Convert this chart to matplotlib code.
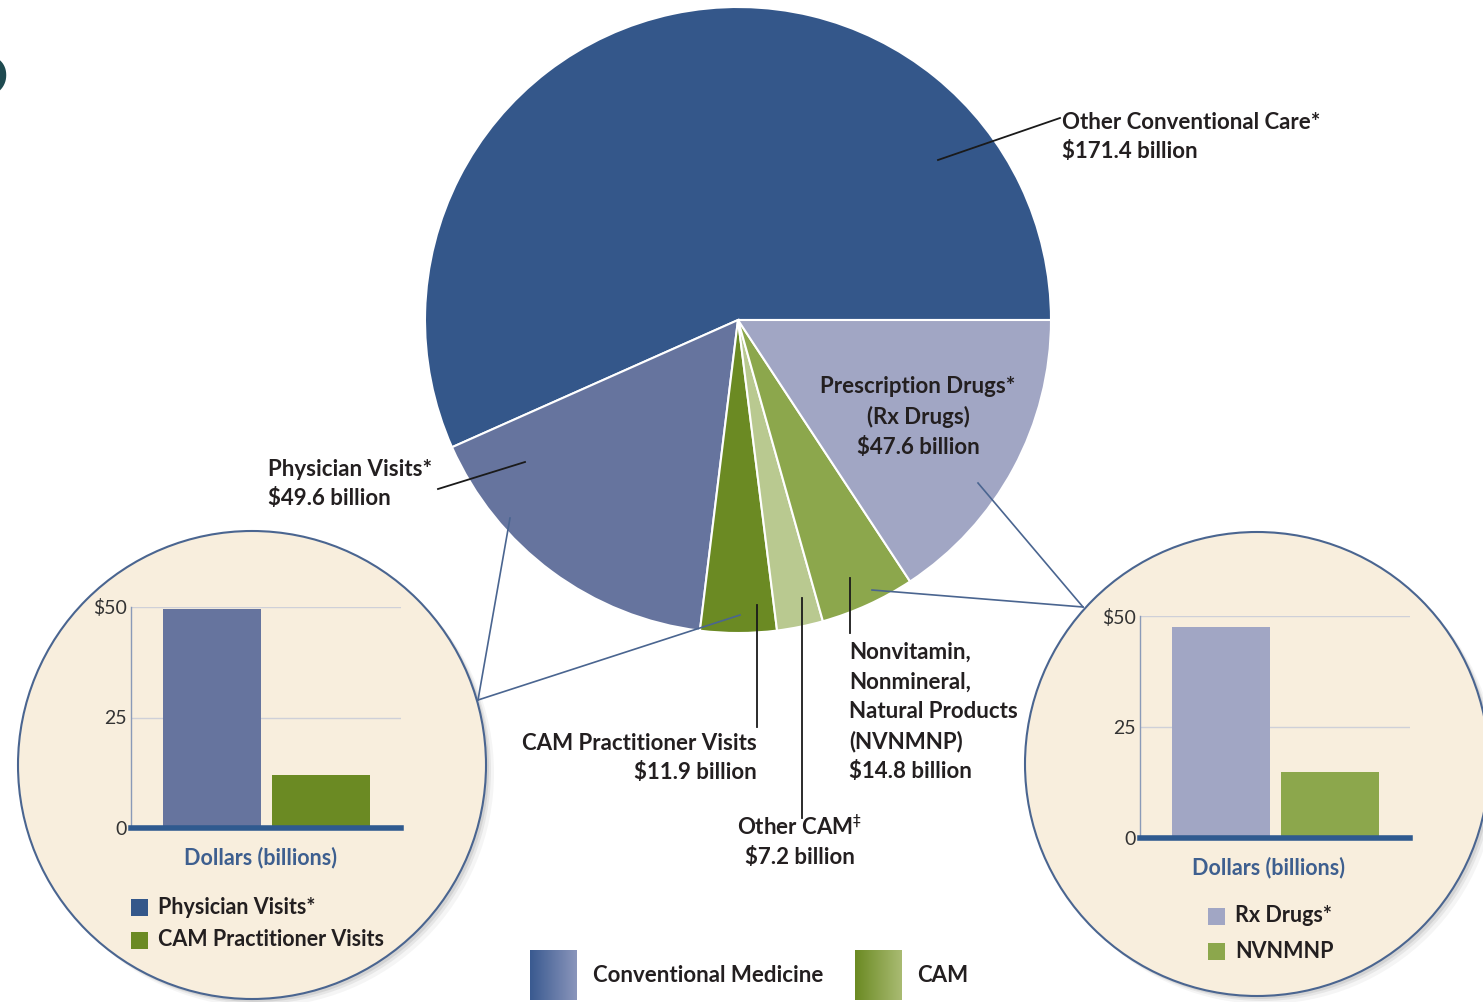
"""CAM vs conventional medicine out-of-pocket spending: pie with two zoomed bar insets."""
import numpy as np
import matplotlib
matplotlib.use('Agg')
import matplotlib.pyplot as plt
from matplotlib.patches import Circle
from matplotlib.colors import LinearSegmentedColormap

W, H = 1483, 1002

# pie data (billions of dollars)
pie_labels = ['Other Conventional Care*', 'Physician Visits*', 'CAM Practitioner Visits',
              'Other CAM', 'NVNMNP', 'Rx Drugs']
pie_values = [171.4, 49.6, 11.9, 7.2, 14.8, 47.6]
pie_colors = ['#34578a', '#66749e', '#6b8a23', '#b9c990', '#8ca74c', '#a1a6c4']

# inset bars
left_names = ['Physician Visits*', 'CAM Practitioner Visits']
left_values = [49.6, 11.9]
left_colors = ['#66749e', '#6b8a23']
right_names = ['Rx Drugs*', 'NVNMNP']
right_values = [47.6, 14.8]
right_colors = ['#a1a6c4', '#8ca74c']
y_ticks = [0, 25, 50]
y_ticklabels = ['0', '25', '$50']

FAM = ['Lato', 'DejaVu Sans']
TXT = '#231f20'
BLUE = '#3e5f8f'


def label(ax, x, y, s, ha='left', size=16, **kw):
    ax.text(x, y, s, ha=ha, va='center', fontsize=size, family=FAM,
            fontweight='bold', color=kw.pop('color', TXT), linespacing=1.5, **kw)


def inset_bars(fig, x0, y_top, y_zero, x1, values, colors):
    bax = fig.add_axes([x0 / W, 1 - y_zero / H, (x1 - x0) / W, (y_zero - y_top) / H])
    bax.bar([0, 1], values, width=0.9, color=colors, zorder=2)
    bax.set_xlim(-0.743, 1.734)
    bax.set_ylim(0, 50)
    bax.set_yticks(y_ticks)
    bax.set_yticklabels(y_ticklabels, family=FAM, fontsize=14, color='#333333')
    bax.set_xticks([])
    bax.tick_params(axis='y', length=0, pad=3)
    bax.grid(axis='y', color='#cfd0d8', linewidth=1, zorder=0)
    bax.set_facecolor('none')
    for s in ['top', 'right']:
        bax.spines[s].set_visible(False)
    bax.spines['left'].set_color('#8a9ab8')
    bax.spines['left'].set_linewidth(1)
    bax.spines['bottom'].set_color('#2f5a8f')
    bax.spines['bottom'].set_linewidth(4)
    bax.spines['bottom'].set_zorder(3)
    return bax


def main():
    fig = plt.figure(figsize=(W / 100, H / 100), dpi=100)
    ax = fig.add_axes([0, 0, 1, 1])

    # inset circles (with a soft shadow)
    for cx, cy, r in [(252, 765, 234), (1257, 764, 232)]:
        for k, a in [(8, 0.04), (5, 0.06), (3, 0.08)]:
            ax.add_patch(Circle((cx + k, cy + k), r, facecolor='#000000', alpha=a,
                                edgecolor='none', zorder=1))
        ax.add_patch(Circle((cx, cy), r, facecolor='#f8eedd', edgecolor='#4a6590',
                            linewidth=1.5, zorder=2))

    ax.pie(pie_values, colors=pie_colors, startangle=0, counterclock=False,
           center=(738, 320), radius=313,
           wedgeprops=dict(edgecolor='white', linewidth=1.5, zorder=3))

    # connectors to insets
    for xs, ys in [([510, 478], [518, 700]), ([740, 478], [615, 700]),
                   ([978, 1083], [483, 607]), ([872, 1083], [590, 607])]:
        ax.plot(xs, ys, color='#4a6590', linewidth=1.2, zorder=4)

    # label leaders
    for xs, ys in [([938, 1060], [160, 118]), ([438, 525], [489, 462]),
                   ([757, 757], [605, 727]), ([802, 802], [598, 818]),
                   ([850, 850], [578, 633])]:
        ax.plot(xs, ys, color='#1a1a1a', linewidth=1.3, zorder=5)

    label(ax, 1062, 137, 'Other Conventional Care*\n$171.4 billion')
    label(ax, 918, 417, 'Prescription Drugs*\n(Rx Drugs)\n$47.6 billion', ha='center')
    label(ax, 268, 484, 'Physician Visits*\n$49.6 billion')
    label(ax, 757, 758, 'CAM Practitioner Visits\n$11.9 billion', ha='right',
          multialignment='right')
    label(ax, 800, 841, 'Other CAM$^{\u2021}$\n$7.2 billion', ha='center')
    label(ax, 849, 712, 'Nonvitamin,\nNonmineral,\nNatural Products\n(NVNMNP)\n$14.8 billion')

    # partial page number at the left edge
    ax.text(10, 70, '6', ha='right', va='center', fontsize=66, color='#1e4a50', family=FAM)

    # bottom legend with gradient swatches
    grad = np.linspace(0, 1, 64).reshape(1, -1)
    for (x0, x1), c0, c1, txt, tx in [((530, 577), '#3a5a90', '#8a95bb', 'Conventional Medicine', 593),
                                     ((855, 902), '#6b8a23', '#a9bb72', 'CAM', 917)]:
        cm = LinearSegmentedColormap.from_list('g', [c0, c1])
        ax.imshow(grad, cmap=cm, extent=(x0, x1, 1000, 950), aspect='auto', zorder=3)
        label(ax, tx, 976, txt, size=16)

    # inset legends and axis titles
    label(ax, 260, 858, 'Dollars (billions)', ha='center', size=15.5, color=BLUE)
    label(ax, 1268, 868, 'Dollars (billions)', ha='center', size=15.5, color=BLUE)
    for (sx, sy), name, col in [((131, 907), left_names[0], '#34578a'),
                                ((131, 940), left_names[1], left_colors[1]),
                                ((1208, 916), right_names[0], right_colors[0]),
                                ((1208, 951), right_names[1], right_colors[1])]:
        ax.add_patch(plt.Rectangle((sx, sy - 8), 17, 17, facecolor=col, edgecolor='none', zorder=4))
        label(ax, sx + 27, sy, name, size=15.5)

    ax.set_xlim(0, W)
    ax.set_ylim(H, 0)
    ax.set_aspect('equal')
    ax.axis('off')

    inset_bars(fig, 131, 607, 828, 401, left_values, left_colors)
    inset_bars(fig, 1140, 616, 838, 1410, right_values, right_colors)

    fig.savefig('out.png', dpi=100, facecolor='white')


if __name__ == '__main__':
    main()
